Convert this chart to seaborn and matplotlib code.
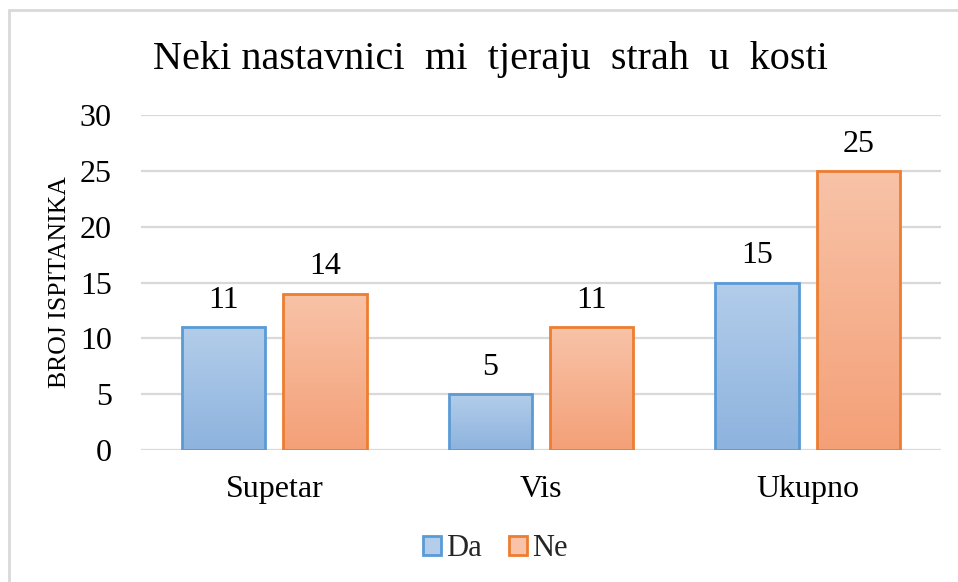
import numpy as np
import pandas as pd
import matplotlib
matplotlib.use("Agg")
import matplotlib.pyplot as plt
import matplotlib.patches as mpatches
import matplotlib.colors as mcolors
from matplotlib.lines import Line2D
import seaborn as sns

categories = ["Supetar", "Vis", "Ukupno"]
da_values = [11, 5, 15]
ne_values = [14, 11, 25]
series_names = ["Da", "Ne"]
yticks = [0, 5, 10, 15, 20, 25, 30]
title_text = "Neki nastavnici  mi  tjeraju  strah  u  kosti"
ylabel_text = "BROJ ISPITANIKA"

df = pd.DataFrame({
    "kategorija": categories * 2,
    "serija": [series_names[0]] * 3 + [series_names[1]] * 3,
    "vrijednost": da_values + ne_values,
})

sns.set_theme(style="white")
plt.rcParams["font.family"] = ["Liberation Serif", "DejaVu Serif"]

edge_cols = {"Da": "#5b9bd5", "Ne": "#ed7d31"}
grad_cols = {"Da": ("#b3cdea", "#8db3de"), "Ne": ("#f8c3a8", "#f4a077")}

fig = plt.figure(figsize=(9.58, 5.82), dpi=100)
ax = fig.add_axes([141 / 958, 1 - 450 / 582, 800 / 958, 335 / 582])

sns.barplot(data=df, x="kategorija", y="vrijednost", hue="serija",
            palette=[edge_cols["Da"], edge_cols["Ne"]], width=0.76, gap=0.18,
            ax=ax, legend=False, zorder=3)

ax.set_ylim(0, 30)
ax.set_xlim(-0.5, 2.5)
ax.set_yticks(yticks)
ax.set_yticklabels([str(t) for t in yticks])
ax.yaxis.grid(True, color="#d9d9d9", linewidth=1.6, zorder=0)
ax.set_axisbelow(True)
for s in ax.spines.values():
    s.set_visible(False)
ax.tick_params(axis="both", length=0, labelsize=23, colors="#000000")
ax.tick_params(axis="y", pad=21)
ax.tick_params(axis="x", pad=18)
ax.set_xlabel("")
ax.set_ylabel(ylabel_text, fontsize=18.5, labelpad=6, color="#000000")

# gradient fills on the seaborn bars
bars = [p for p in ax.patches if isinstance(p, mpatches.Rectangle)]
order = series_names
for i, bar in enumerate(bars):
    serie = order[i // len(categories)]
    top_c, bot_c = grad_cols[serie]
    cmap = mcolors.LinearSegmentedColormap.from_list("g", [bot_c, top_c])
    x0, y0 = bar.get_x(), bar.get_y()
    w, h = bar.get_width(), bar.get_height()
    grad = np.linspace(0, 1, 256).reshape(-1, 1)
    im = ax.imshow(grad, cmap=cmap, aspect="auto", origin="lower",
                   extent=[x0, x0 + w, y0, y0 + h], zorder=2.9)
    im.set_clip_path(bar)
    bar.set_facecolor("none")
    bar.set_edgecolor(edge_cols[serie])
    bar.set_linewidth(2)
    ax.text(x0 + w / 2, h + 1.1, f"{int(h)}", ha="center", va="bottom",
            fontsize=23, color="#000000")

ax.set_xlim(-0.5, 2.5)
ax.set_ylim(0, 30)

fig.text(490 / 958, 1 - 60 / 582, title_text, ha="center", va="center",
         fontsize=29, color="#000000")

handles = [mpatches.Patch(facecolor=grad_cols[s][0], edgecolor=edge_cols[s],
                          linewidth=2, label=s) for s in series_names]
fig.legend(handles=handles, loc="center", bbox_to_anchor=(495 / 958, 1 - 549 / 582),
           ncol=2, frameon=False, fontsize=22, handlelength=0.6, handleheight=0.6,
           handletextpad=0.15, columnspacing=0.9)

# outer border (top and left visible)
fig.add_artist(Line2D([9 / 958, 9 / 958], [0, 1 - 10 / 582], color="#d9d9d9",
                      linewidth=2, transform=fig.transFigure))
fig.add_artist(Line2D([9 / 958, 1], [1 - 10 / 582, 1 - 10 / 582], color="#d9d9d9",
                      linewidth=2, transform=fig.transFigure))

fig.savefig("out.png", dpi=100, facecolor="white")
